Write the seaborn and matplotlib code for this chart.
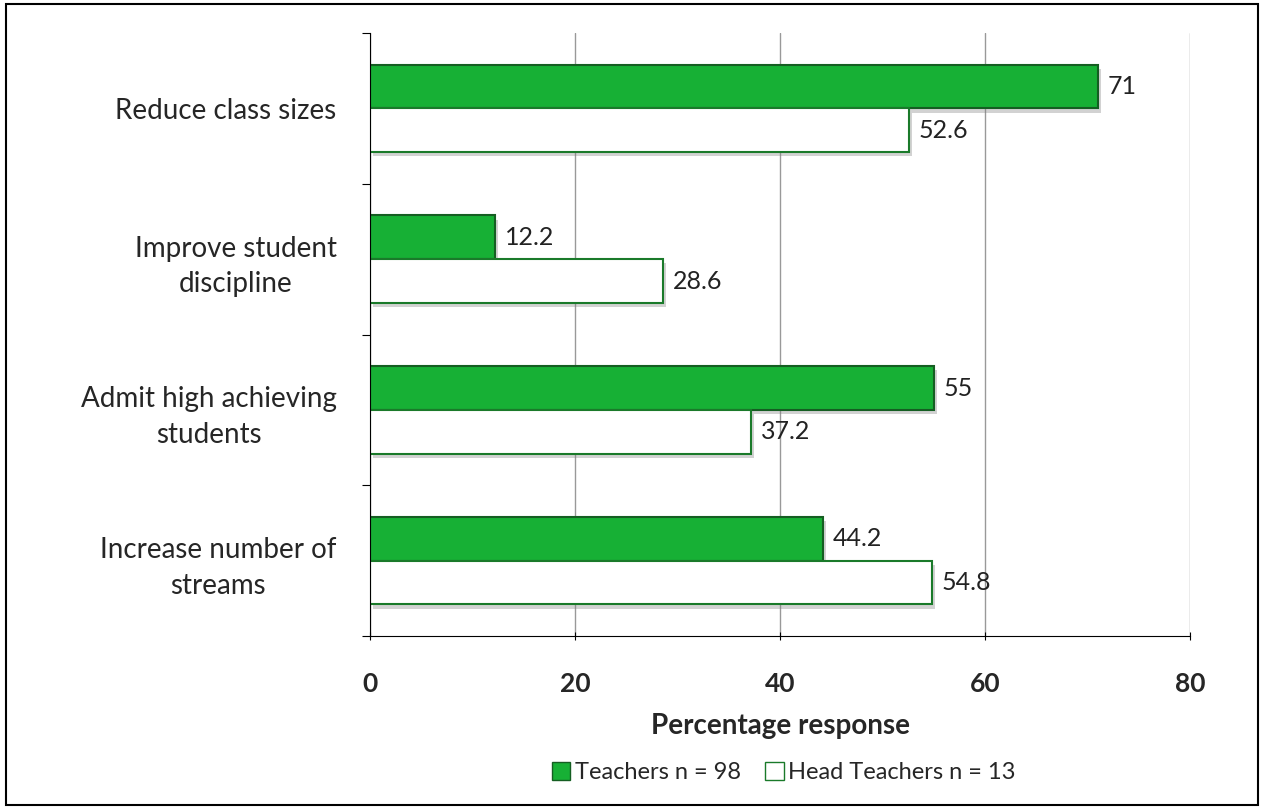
import pandas as pd
import matplotlib
matplotlib.use("Agg")
import matplotlib.pyplot as plt
import matplotlib.patheffects as pe
from matplotlib.patches import Patch, Rectangle
import seaborn as sns

categories = ["Reduce class sizes", "Improve student\ndiscipline",
              "Admit high achieving\nstudents", "Increase number of\nstreams"]
teachers = [71, 12.2, 55, 44.2]
head_teachers = [52.6, 28.6, 37.2, 54.8]
series = ["Teachers n = 98", "Head Teachers n = 13"]
xticks = [0, 20, 40, 60, 80]

df = pd.DataFrame({
    "category": categories * 2,
    "value": teachers + head_teachers,
    "group": [series[0]] * 4 + [series[1]] * 4,
})

sns.set_style("white")
plt.rcParams["font.family"] = ["Lato", "DejaVu Sans"]

green = "#17b035"
edge = "#1a7a2a"

fig = plt.figure(figsize=(12.64, 8.09), dpi=100)
ax = fig.add_axes([0.2927, 0.2138, 0.6488, 0.7454])

sns.barplot(data=df, y="category", x="value", hue="group", order=categories,
            hue_order=series, orient="h", width=0.58, ax=ax,
            palette=[green, "white"], legend=False, saturation=1)

shadow = [pe.SimplePatchShadow(offset=(2, -3), shadow_rgbFace="grey", alpha=0.35), pe.Normal()]
for i, cont in enumerate(ax.containers):
    for bar in cont:
        bar.set_edgecolor("#155e22" if i == 0 else edge)
        bar.set_linewidth(1.5)
        bar.set_path_effects(shadow)
    labels = ["%g" % v for v in cont.datavalues]
    ax.bar_label(cont, labels=labels, padding=7, fontsize=18, color="#222222")

ax.set_xlim(0, 80)
ax.set_xticks(xticks)
ax.set_xticklabels([str(t) for t in xticks], fontsize=19, fontweight="bold")
ax.set_ylim(3.5, -0.5)
ax.set_yticks([-0.5, 0.5, 1.5, 2.5, 3.5])
ax.set_yticklabels([])
ax.set_yticks(range(4), minor=True)
ax.set_yticklabels(categories, minor=True, fontsize=20, ha="right",
                   multialignment="center", linespacing=1.45)
ax.tick_params(axis="y", which="minor", length=0, pad=24)
ax.tick_params(axis="y", which="major", length=6, direction="out", left=True, color="black")
ax.tick_params(axis="x", length=6, direction="inout", bottom=True, color="black", pad=23)
ax.set_ylabel("")
ax.set_xlabel("Percentage response", fontsize=20, fontweight="bold", labelpad=12)

ax.grid(axis="x", color="#999999", linewidth=1)
ax.set_axisbelow(True)
sns.despine(ax=ax, top=True, right=True)
ax.spines["left"].set_color("black")
ax.spines["bottom"].set_color("black")

handles = [Patch(facecolor=green, edgecolor="#155e22"),
           Patch(facecolor="white", edgecolor=edge)]
fig.legend(handles, series, loc="center", bbox_to_anchor=(0.62, 0.045), ncol=2,
           frameon=False, fontsize=17, handlelength=0.8, handleheight=0.8,
           handletextpad=0.2, columnspacing=1.0)

fig.patches.append(Rectangle((0.005, 0.005), 0.99, 0.99, transform=fig.transFigure,
                             fill=False, edgecolor="black", linewidth=1.5))

fig.savefig("out.png", dpi=100)
